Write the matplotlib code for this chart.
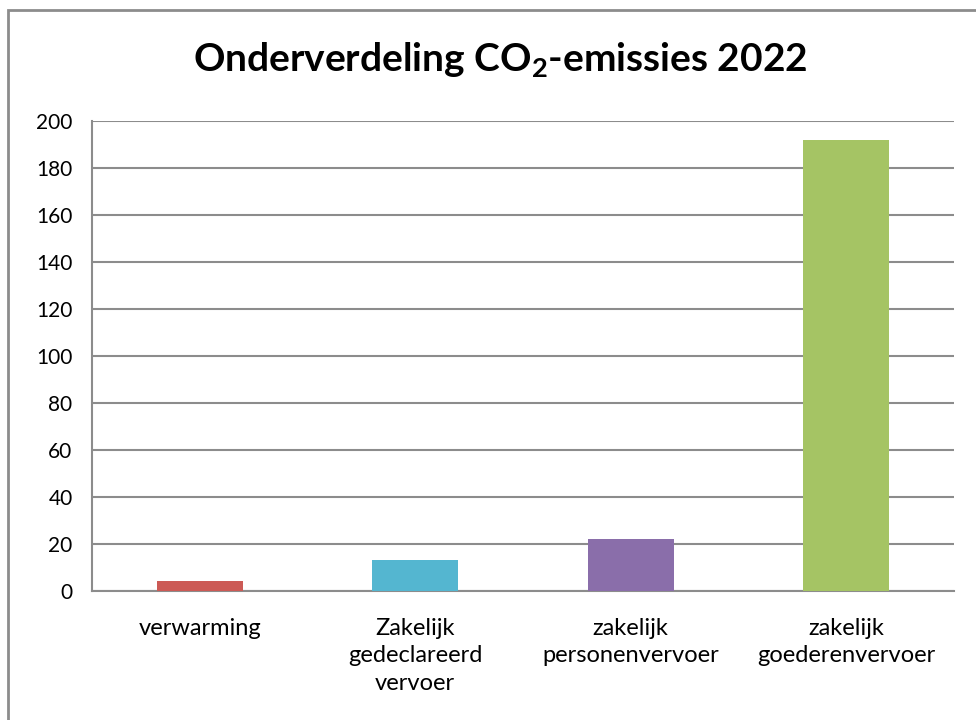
import matplotlib.pyplot as plt
from matplotlib.patches import Rectangle

plt.rcParams['font.family'] = ['Lato', 'DejaVu Sans']
plt.rcParams['mathtext.fontset'] = 'custom'
plt.rcParams['mathtext.rm'] = 'Lato'
plt.rcParams['mathtext.bf'] = 'Lato:bold'
plt.rcParams['mathtext.default'] = 'regular'

# Data
categories = ["verwarming", "Zakelijk\ngedeclareerd\nvervoer",
              "zakelijk\npersonenvervoer", "zakelijk\ngoederenvervoer"]
emissions = [4.4, 13.3, 22.1, 191.9]
colors = ['#CC5A55', '#54B6D0', '#8A6EAA', '#A5C464']
yticks = [0, 20, 40, 60, 80, 100, 120, 140, 160, 180, 200]

fig = plt.figure(figsize=(9.76, 7.2), dpi=100)
ax = fig.add_axes([0.0943, 0.179, 0.883, 0.653])

x = range(len(categories))
ax.bar(x, emissions, width=0.4, color=colors, zorder=3)

ax.set_xlim(-0.5, 3.5)
ax.set_ylim(0, 200)
ax.set_yticks(yticks)
ax.set_xticks(list(x))
ax.set_xticklabels(categories, fontsize=17, linespacing=1.4, va='top')
ax.tick_params(axis='y', length=0, pad=14, labelsize=15)
ax.tick_params(axis='x', length=0, pad=19)

ax.grid(axis='y', color='#8c8c8c', linewidth=1.5, zorder=0)
for s in ['top', 'right']:
    ax.spines[s].set_visible(False)
for s in ['left', 'bottom']:
    ax.spines[s].set_color('#8c8c8c')
    ax.spines[s].set_linewidth(1.5)

fig.text(0.512, 0.917, r"Onderverdeling CO$_\mathbf{2}$-emissies 2022",
         ha='center', va='center', fontsize=28, fontweight='bold')

# chart border, cut off at the right and bottom like the screenshot
fig.patches.append(Rectangle((0.0082, -0.1), 1.2, 1.086, transform=fig.transFigure,
                             fill=False, edgecolor='#8c8c8c', linewidth=2))

fig.savefig('out.png', dpi=100)
